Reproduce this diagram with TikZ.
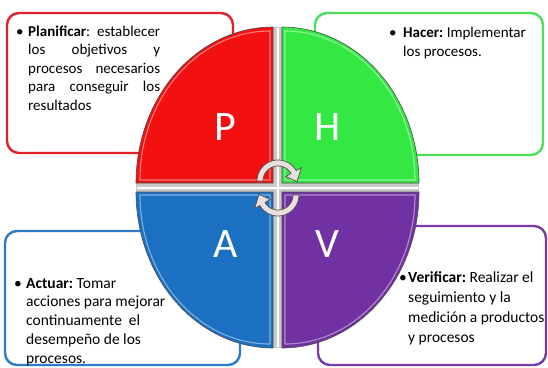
\documentclass[tikz,border=0pt]{standalone}
\usepackage{fontspec}
\setmainfont{Carlito}
\definecolor{qred}{HTML}{F21010}
\definecolor{qgreen}{HTML}{33E843}
\definecolor{qblue}{HTML}{1C70C2}
\definecolor{qpurple}{HTML}{7131A2}
\definecolor{bred}{HTML}{E3202A}
\definecolor{bgreen}{HTML}{4CE05A}
\definecolor{bblue}{HTML}{2E7BC8}
\definecolor{bpurple}{HTML}{7A3BA5}
\definecolor{gapgray}{HTML}{C9C9C9}
\definecolor{arrowfill}{HTML}{EADFDF}
\frenchspacing
\begin{document}
\frenchspacing
\begin{tikzpicture}[x=1pt,y=-1pt,
  box/.style={rounded corners=12pt,line width=2.4pt,fill=white},
  quad/.style={draw=black!70,line width=0.6pt},
  shine/.style={draw=white,opacity=0.45,line width=1.1pt},
  letter/.style={text=white,font=\fontsize{42}{42}\selectfont,inner sep=0pt},
  body/.style={anchor=base west,inner sep=0pt},
  arrowband/.style={fill=arrowfill,draw=black!70,line width=0.7pt}]
\useasboundingbox (0,0) rectangle (548,367);

% text boxes
\draw[box,draw=bred] (7,13) rectangle (233,153);
\draw[box,draw=bgreen] (315,13) rectangle (543,155);
\draw[box,draw=bblue] (5,231) rectangle (240,365);
\draw[box,draw=bpurple] (318,226) rectangle (546,365);

% box texts
\node[body,font={\fontsize{15}{18.5}\selectfont}] (tp) at (16,36) {\begin{tabular}[t]{@{}l@{}l@{}}
\makebox[12pt][l]{•} & \makebox[132pt][s]{\textbf{Planificar}: establecer}\\
 & \makebox[132pt][s]{los objetivos y}\\
 & \makebox[132pt][s]{procesos necesarios}\\
 & \makebox[132pt][s]{para conseguir los}\\
 & resultados
\end{tabular}};

\node[body,font={\fontsize{15}{19}\selectfont}] (th) at (389,37) {\begin{tabular}[t]{@{}l@{}l@{}}
\makebox[14pt][l]{•} & \textbf{Hacer:} Implementar\\
 & los procesos.
\end{tabular}};

\node[body,font={\fontsize{15.5}{18.8}\selectfont}] (ta) at (14,288) {\begin{tabular}[t]{@{}l@{}l@{}}
\makebox[12pt][l]{•} & \textbf{Actuar:} Tomar\\
 & acciones para mejorar\\
 & continuamente\ \ el\\
 & desempeño de los\\
 & procesos.
\end{tabular}};

\node[body,font={\fontsize{15.5}{20}\selectfont}] (tv) at (399,282) {\begin{tabular}[t]{@{}l@{}l@{}}
\makebox[9pt][l]{•} & \textbf{Verificar:} Realizar el\\
 & seguimiento y la\\
 & medición a productos\\
 & y procesos
\end{tabular}};

% gaps between quadrants
\fill[gapgray] (136,183) rectangle (419,192);
\fill[gapgray] (273,27) rectangle (282,348);
\draw[white,line width=2pt] (137,187.5) -- (418,187.5);
\draw[white,line width=2pt] (277.5,28) -- (277.5,347);

% quadrants
\filldraw[quad,fill=qred] (273,183) -- plot[domain=180:270,samples=60] ({273+137*cos(\x)},{183+156*sin(\x)}) -- cycle;
\filldraw[quad,fill=qgreen] (282,183) -- plot[domain=270:360,samples=60] ({282+137*cos(\x)},{183+156*sin(\x)}) -- cycle;
\filldraw[quad,fill=qblue] (273,192) -- plot[domain=180:90,samples=60] ({273+137*cos(\x)},{192+156*sin(\x)}) -- cycle;
\filldraw[quad,fill=qpurple] (282,192) -- plot[domain=90:0,samples=60] ({282+137*cos(\x)},{192+156*sin(\x)}) -- cycle;

% glossy inner highlights
\draw[shine] (270,180) -- plot[domain=180:270,samples=60] ({270+130*cos(\x)},{180+149*sin(\x)}) -- cycle;
\draw[shine] (285,180) -- plot[domain=270:360,samples=60] ({285+130*cos(\x)},{180+149*sin(\x)}) -- cycle;
\draw[shine] (270,195) -- plot[domain=180:90,samples=60] ({270+130*cos(\x)},{195+149*sin(\x)}) -- cycle;
\draw[shine] (285,195) -- plot[domain=90:0,samples=60] ({285+130*cos(\x)},{195+149*sin(\x)}) -- cycle;

% letters
\node[letter] (P) at (225,127) {P};
\node[letter] (H) at (328,127) {H};
\node[letter] (A) at (226,244) {A};
\node[letter] (V) at (327,244) {V};

% circular arrows
\filldraw[arrowband] plot[domain=180:330,samples=40] ({278+21*cos(\x)},{181+21*sin(\x)})
  -- ({278+27*cos(330)},{181+27*sin(330)})
  -- ({278+19*cos(2)},{181+19*sin(2)})
  -- ({278+9*cos(330)},{181+9*sin(330)})
  -- plot[domain=330:180,samples=40] ({278+15*cos(\x)},{181+15*sin(\x)}) -- cycle;
\filldraw[arrowband] plot[domain=0:150,samples=40] ({278+21*cos(\x)},{195+21*sin(\x)})
  -- ({278+27*cos(150)},{195+27*sin(150)})
  -- ({278+19*cos(182)},{195+19*sin(182)})
  -- ({278+9*cos(150)},{195+9*sin(150)})
  -- plot[domain=150:0,samples=40] ({278+15*cos(\x)},{195+15*sin(\x)}) -- cycle;
\end{tikzpicture}
\end{document}
